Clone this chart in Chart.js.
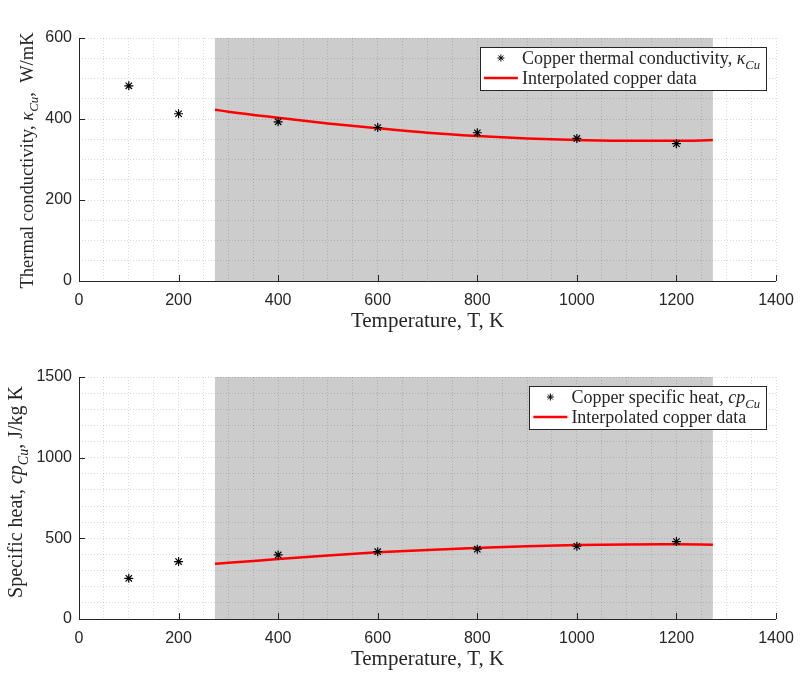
<!DOCTYPE html>
<html>
<head>
<meta charset="utf-8">
<title>Copper properties</title>
<script src="https://cdn.jsdelivr.net/npm/chart.js@4.4.0/dist/chart.umd.min.js"></script>
<style>
  body { margin: 0; background: #fff; }
  canvas { position: absolute; left: 0; }
</style>
</head>
<body>
<canvas id="kChart" width="800" height="337" style="top:0"></canvas>
<canvas id="cpChart" width="800" height="338" style="top:337px"></canvas>
<script>
// measured copper data
const tempData = [100, 200, 400, 600, 800, 1000, 1200];
const kData = [482, 413, 393, 379, 366, 352, 339];
const cpData = [252, 356, 397, 417, 433, 451, 480];

// interpolated curve over the shaded range
const tempFit = [273.15, 300, 400, 500, 600, 700, 800, 900, 1000, 1100, 1200, 1273.15];
const kFit = [423, 418, 403, 389, 377, 366, 358, 352, 348, 346, 346, 348];
const cpFit = [343, 348, 372, 394, 413, 428, 440, 451, 458, 462, 463, 461];

// shaded temperature band
const bandRange = [273.15, 1273.15];

// tick labels
const xTicks = [0, 200, 400, 600, 800, 1000, 1200, 1400];
const kTicks = [0, 200, 400, 600];
const cpTicks = [0, 500, 1000, 1500];

const SERIF = '"Liberation Serif", "Times New Roman", serif';
const SANS = '"Liberation Sans", Arial, sans-serif';
const INK = '#262626';

function pieceFont(p, size) {
  const s = p.sub ? size * 0.7 : size;
  return (p.it ? 'italic ' : '') + s + 'px ' + SERIF;
}
function richWidth(ctx, pieces, size) {
  let w = 0;
  pieces.forEach(p => { ctx.font = pieceFont(p, size); w += ctx.measureText(p.t).width; });
  return w;
}
function drawRich(ctx, pieces, x, y, size) {
  ctx.textBaseline = 'alphabetic';
  ctx.textAlign = 'left';
  pieces.forEach(p => {
    ctx.font = pieceFont(p, size);
    ctx.fillText(p.t, x, y + (p.sub ? size * 0.28 : 0));
    x += ctx.measureText(p.t).width;
  });
}

// shaded band, axis lines, inward ticks, y label and legend box
const axesDecor = {
  id: 'axesDecor',
  beforeDraw(chart) {
    const { ctx, chartArea: a, scales: { x } } = chart;
    const x0 = x.getPixelForValue(bandRange[0]);
    const x1 = x.getPixelForValue(bandRange[1]);
    ctx.save();
    ctx.fillStyle = '#cccccc';
    ctx.fillRect(x0, a.top, x1 - x0, a.bottom - a.top);
    ctx.restore();
  },
  afterDraw(chart, args, o) {
    const { ctx, chartArea: a, scales: { x, y } } = chart;
    ctx.save();
    ctx.strokeStyle = INK;
    ctx.lineWidth = 1;
    ctx.beginPath();
    ctx.moveTo(a.left + 0.5, a.top);
    ctx.lineTo(a.left + 0.5, a.bottom + 0.5);
    ctx.lineTo(a.right, a.bottom + 0.5);
    xTicks.forEach(v => {
      const px = Math.round(x.getPixelForValue(v)) + 0.5;
      ctx.moveTo(px, a.bottom);
      ctx.lineTo(px, a.bottom - 6);
    });
    o.yTicks.forEach(v => {
      const py = Math.round(y.getPixelForValue(v)) + 0.5;
      ctx.moveTo(a.left, py);
      ctx.lineTo(a.left + 6, py);
    });
    ctx.stroke();

    // y axis title
    ctx.fillStyle = INK;
    const yw = richWidth(ctx, o.yLabel, o.yLabelSize);
    ctx.save();
    ctx.translate(o.yLabelX, (a.top + a.bottom) / 2 + o.yLabelShift);
    ctx.rotate(-Math.PI / 2);
    drawRich(ctx, o.yLabel, -yw / 2, 0, o.yLabelSize);
    ctx.restore();

    // legend
    const fs = 18;
    const tw = Math.max(richWidth(ctx, o.legend[0], fs), richWidth(ctx, o.legend[1], fs));
    const bw = 42 + tw + 6, bh = 43;
    const bx = a.right - 10 - bw, by = a.top + 9;
    ctx.fillStyle = '#fff';
    ctx.fillRect(bx, by, bw, bh);
    ctx.strokeStyle = INK;
    ctx.strokeRect(Math.round(bx) + 0.5, by + 0.5, Math.round(bw), bh);
    const r1 = by + 11, r2 = by + 31;
    // star marker
    ctx.strokeStyle = '#000';
    ctx.lineWidth = 1;
    const mx = bx + 21, r = 3.5;
    ctx.beginPath();
    for (let k = 0; k < 4; k++) {
      const ang = k * Math.PI / 4;
      ctx.moveTo(mx - r * Math.cos(ang), r1 - r * Math.sin(ang));
      ctx.lineTo(mx + r * Math.cos(ang), r1 + r * Math.sin(ang));
    }
    ctx.stroke();
    ctx.strokeStyle = '#ff0000';
    ctx.lineWidth = 2.5;
    ctx.beginPath();
    ctx.moveTo(bx + 4, r2);
    ctx.lineTo(bx + 38, r2);
    ctx.stroke();
    ctx.fillStyle = INK;
    drawRich(ctx, o.legend[0], bx + 42, r1 + 6, fs);
    drawRich(ctx, o.legend[1], bx + 42, r2 + 6, fs);
    ctx.restore();
  }
};

function buildChart(id, cfg) {
  return new Chart(document.getElementById(id), {
    type: 'scatter',
    data: {
      datasets: [
        {
          label: cfg.pointLabel,
          data: tempData.map((t, i) => ({ x: t, y: cfg.points[i] })),
          pointStyle: 'star',
          pointRadius: 4.5,
          borderColor: '#000',
          backgroundColor: '#000',
          borderWidth: 1.2,
          showLine: false,
          order: 0
        },
        {
          label: 'Interpolated copper data',
          data: tempFit.map((t, i) => ({ x: t, y: cfg.fit[i] })),
          showLine: true,
          borderColor: '#ff0000',
          borderWidth: 2.5,
          pointRadius: 0,
          tension: 0.4,
          cubicInterpolationMode: 'monotone',
          order: 1
        }
      ]
    },
    options: {
      responsive: false,
      animation: false,
      layout: { padding: { top: cfg.top, right: 24, left: 0, bottom: 0 } },
      plugins: {
        legend: { display: false },
        tooltip: { enabled: false },
        axesDecor: {
          yTicks: cfg.yTicks,
          yLabel: cfg.yLabel,
          yLabelX: cfg.yLabelX,
          yLabelSize: cfg.yLabelSize,
          yLabelShift: cfg.yLabelShift,
          legend: cfg.legend
        }
      },
      scales: {
        x: {
          type: 'linear',
          min: 0,
          max: 1400,
          // fixed axis band; end labels may hang into the page margin
          afterFit: s => { s.height = 56; s.paddingLeft = 0; s.paddingRight = 0; },
          ticks: {
            stepSize: 50,
            autoSkip: false,
            maxRotation: 0,
            padding: 10,
            color: INK,
            font: { family: SANS, size: 16 },
            callback: v => xTicks.includes(v) ? v : ''
          },
          grid: { color: 'rgba(0,0,0,0.15)', drawTicks: false },
          border: { display: false, dash: [1, 2] },
          title: {
            display: true,
            text: 'Temperature, T, K',
            color: INK,
            font: { family: SERIF, size: 21 },
            padding: { top: 0, bottom: 3 }
          }
        },
        y: {
          min: 0,
          max: cfg.yMax,
          afterFit: s => { s.width = 79; s.paddingTop = 0; s.paddingBottom = 0; },
          ticks: {
            stepSize: cfg.yStep,
            autoSkip: false,
            padding: 7,
            color: INK,
            font: { family: SANS, size: 16 },
            callback: v => cfg.yTicks.includes(v) ? v : ''
          },
          grid: { color: 'rgba(0,0,0,0.15)', drawTicks: false },
          border: { display: false, dash: [1, 2] }
        }
      }
    },
    plugins: [axesDecor]
  });
}

buildChart('kChart', {
  points: kData,
  fit: kFit,
  pointLabel: 'Copper thermal conductivity',
  yMax: 600,
  yStep: 50,
  yTicks: kTicks,
  top: 38,
  yLabelX: 33,
  yLabelSize: 18.5,
  yLabelShift: 1,
  yLabel: [{ t: 'Thermal conductivity, ' }, { t: 'κ', it: true }, { t: 'Cu', it: true, sub: true }, { t: ',  W/mK' }],
  legend: [
    [{ t: 'Copper thermal conductivity, ' }, { t: 'κ', it: true }, { t: 'Cu', it: true, sub: true }],
    [{ t: 'Interpolated copper data' }]
  ]
});

buildChart('cpChart', {
  points: cpData,
  fit: cpFit,
  pointLabel: 'Copper specific heat',
  yMax: 1500,
  yStep: 100,
  yTicks: cpTicks,
  top: 40,
  yLabelX: 22,
  yLabelSize: 20,
  yLabelShift: -6,
  yLabel: [{ t: 'Specific heat, ' }, { t: 'cp', it: true }, { t: 'Cu', it: true, sub: true }, { t: ', J/kg K' }],
  legend: [
    [{ t: 'Copper specific heat, ' }, { t: 'cp', it: true }, { t: 'Cu', it: true, sub: true }],
    [{ t: 'Interpolated copper data' }]
  ]
});
</script>
</body>
</html>
